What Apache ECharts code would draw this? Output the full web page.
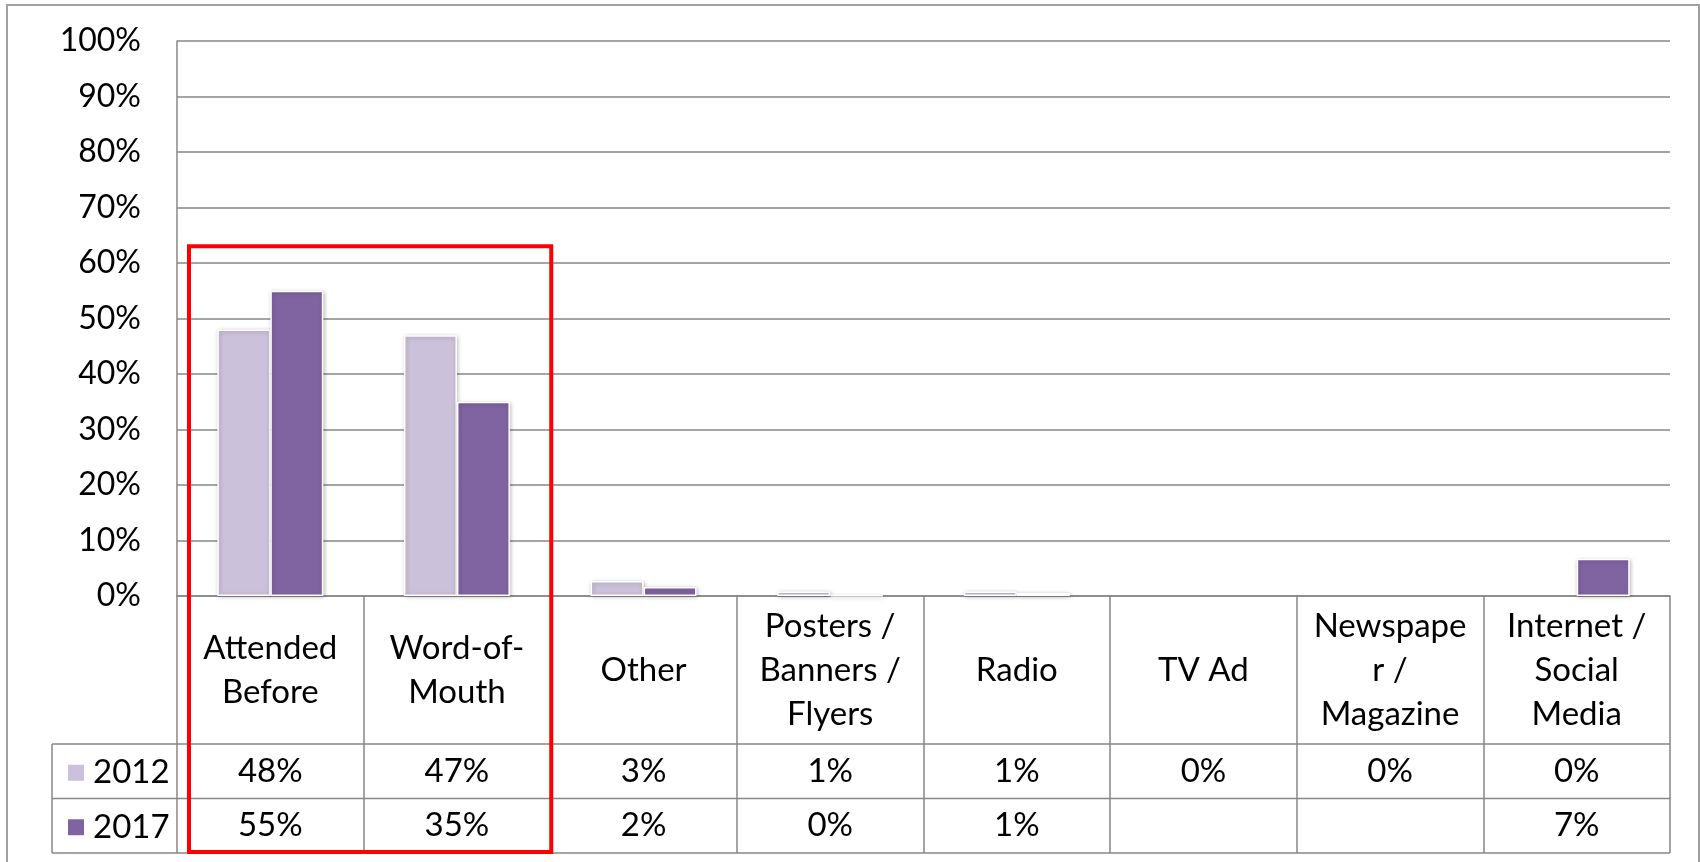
<!DOCTYPE html>
<html>
<head>
<meta charset="utf-8">
<script src="https://cdn.jsdelivr.net/npm/echarts@6/dist/echarts.min.js"></script>
<style>
  html, body { margin: 0; padding: 0; background: #fff; }
  #chart { width: 1700px; height: 862px; }
</style>
</head>
<body>
<div id="chart"></div>
<script>
// categories, shown with the same line breaks as the original table
const categories = [
  'Attended\nBefore',
  'Word-of-\nMouth',
  'Other',
  'Posters /\nBanners /\nFlyers',
  'Radio',
  'TV Ad',
  'Newspape\nr /\nMagazine',
  'Internet /\nSocial\nMedia'
]
const seriesNames = ['2012', '2017']
// percent (table shows them rounded)
const values2012 = [48, 47, 2.7, 0.8, 0.8, 0, 0, 0]
const values2017 = [55, 35, 1.6, 0.1, 0.55, null, null, 6.7]
const yTicks = [0, 10, 20, 30, 40, 50, 60, 70, 80, 90, 100]

// layout
const GRID_LEFT = 177
const GRID_RIGHT = 30
const GRID_TOP = 41
const GRID_BOTTOM = 266
const CAT_ROW = 148 // height of the category-name row of the table
const VAL_ROW = 54.5 // height of each value row
const LEGEND_X = 52 // left edge of the legend column
const W = 1700
const H = 862
const FONT = 'Lato, "Open Sans", sans-serif'
const FONT_SIZE = 33
const LINE = '#878787'
const colors = ['#CCC1DA', '#8064A2']

const plotBottom = H - GRID_BOTTOM
const plotRight = W - GRID_RIGHT
const tableBottom = plotBottom + CAT_ROW + 2 * VAL_ROW

function pct(v) {
  return v === null || v === undefined ? '' : Math.round(v) + '%'
}

function valueAxis(arr, offset) {
  return {
    type: 'category',
    data: categories,
    position: 'bottom',
    offset: offset,
    axisLine: { show: false },
    axisTick: { show: false },
    axisLabel: {
      interval: 0,
      margin: 0,
      verticalAlign: 'middle',
      fontFamily: FONT,
      fontSize: FONT_SIZE,
      color: '#000',
      formatter: function(v, i) { return pct(arr[i]) }
    }
  }
}

function barSeries(name, data, i) {
  return {
    name: name,
    type: 'bar',
    xAxisIndex: 0,
    barWidth: 53,
    barGap: '0%',
    itemStyle: {
      color: colors[i],
      borderColor: '#fff',
      borderWidth: 1.5,
      shadowBlur: 4,
      shadowColor: 'rgba(0,0,0,0.25)',
      shadowOffsetX: 1,
      shadowOffsetY: 1
    },
    // a zero bar has no height, so drop its border and shadow
    data: data.map(function(v) {
      if (v === 0) {
        return { value: 0, itemStyle: { borderWidth: 0, shadowBlur: 0, opacity: 0 } }
      }
      return v
    })
  }
}

function legendRow(name, row) {
  return {
    data: [name],
    orient: 'vertical',
    left: 66,
    top: plotBottom + CAT_ROW + VAL_ROW * (row + 0.5) - 15,
    padding: 0,
    itemWidth: 18,
    itemHeight: 18,
    icon: 'rect',
    textStyle: {
      fontFamily: FONT,
      fontSize: FONT_SIZE,
      lineHeight: 18,
      color: '#000',
      padding: [0, 0, 0, 3]
    }
  }
}

const chart = echarts.init(document.getElementById('chart'))

const tableLines = [
  [LEGEND_X, plotBottom + CAT_ROW, plotRight, plotBottom + CAT_ROW],
  [LEGEND_X, plotBottom + CAT_ROW + VAL_ROW, plotRight, plotBottom + CAT_ROW + VAL_ROW],
  [LEGEND_X, tableBottom, plotRight, tableBottom],
  [LEGEND_X, plotBottom + CAT_ROW, LEGEND_X, tableBottom]
].map(function(p) {
  return {
    type: 'line',
    shape: { x1: p[0], y1: p[1], x2: p[2], y2: p[3] },
    style: { stroke: LINE, lineWidth: 1.5 },
    silent: true
  }
})

const option = {
  animation: false,
  color: colors,
  grid: {
    left: GRID_LEFT,
    right: GRID_RIGHT,
    top: GRID_TOP,
    bottom: GRID_BOTTOM,
    containLabel: false
  },
  legend: [legendRow(seriesNames[0], 0), legendRow(seriesNames[1], 1)],
  xAxis: [
    {
      type: 'category',
      data: categories,
      position: 'bottom',
      axisLine: { show: true, lineStyle: { color: LINE, width: 1.5 } },
      axisTick: {
        show: true,
        length: CAT_ROW + 2 * VAL_ROW,
        lineStyle: { color: LINE, width: 1.5 }
      },
      axisLabel: {
        interval: 0,
        margin: CAT_ROW / 2,
        verticalAlign: 'middle',
        fontFamily: FONT,
        fontSize: FONT_SIZE,
        lineHeight: 44,
        color: '#000'
      }
    },
    valueAxis(values2012, CAT_ROW + VAL_ROW / 2),
    valueAxis(values2017, CAT_ROW + VAL_ROW * 1.5)
  ],
  yAxis: {
    type: 'value',
    min: yTicks[0],
    max: yTicks[yTicks.length - 1],
    interval: yTicks[1] - yTicks[0],
    axisLine: { show: true, lineStyle: { color: LINE, width: 1.5 } },
    axisTick: { show: false },
    axisLabel: {
      margin: 36,
      fontFamily: FONT,
      fontSize: 32,
      color: '#000',
      formatter: '{value}%'
    },
    splitLine: { lineStyle: { color: LINE, width: 1.5 } }
  },
  series: [
    barSeries(seriesNames[0], values2012, 0),
    barSeries(seriesNames[1], values2017, 1)
  ]
}

chart.setOption(option)

// highlight box round the first two categories, plus the outer frame
const band = (plotRight - GRID_LEFT) / categories.length
const boxTop = chart.convertToPixel({ yAxisIndex: 0 }, 63)
chart.setOption({
  graphic: tableLines.concat([
    {
      type: 'rect',
      shape: { x: 7, y: 5, width: W - 8, height: H + 20 },
      style: { fill: null, stroke: '#a0a0a0', lineWidth: 2 },
      silent: true
    },
    {
      type: 'rect',
      shape: {
        x: GRID_LEFT + 12,
        y: boxTop,
        width: 2 * band - 11,
        height: tableBottom - 1 - boxTop
      },
      style: { fill: null, stroke: '#ff0000', lineWidth: 4 },
      z: 100,
      silent: true
    }
  ])
})
</script>
</body>
</html>
